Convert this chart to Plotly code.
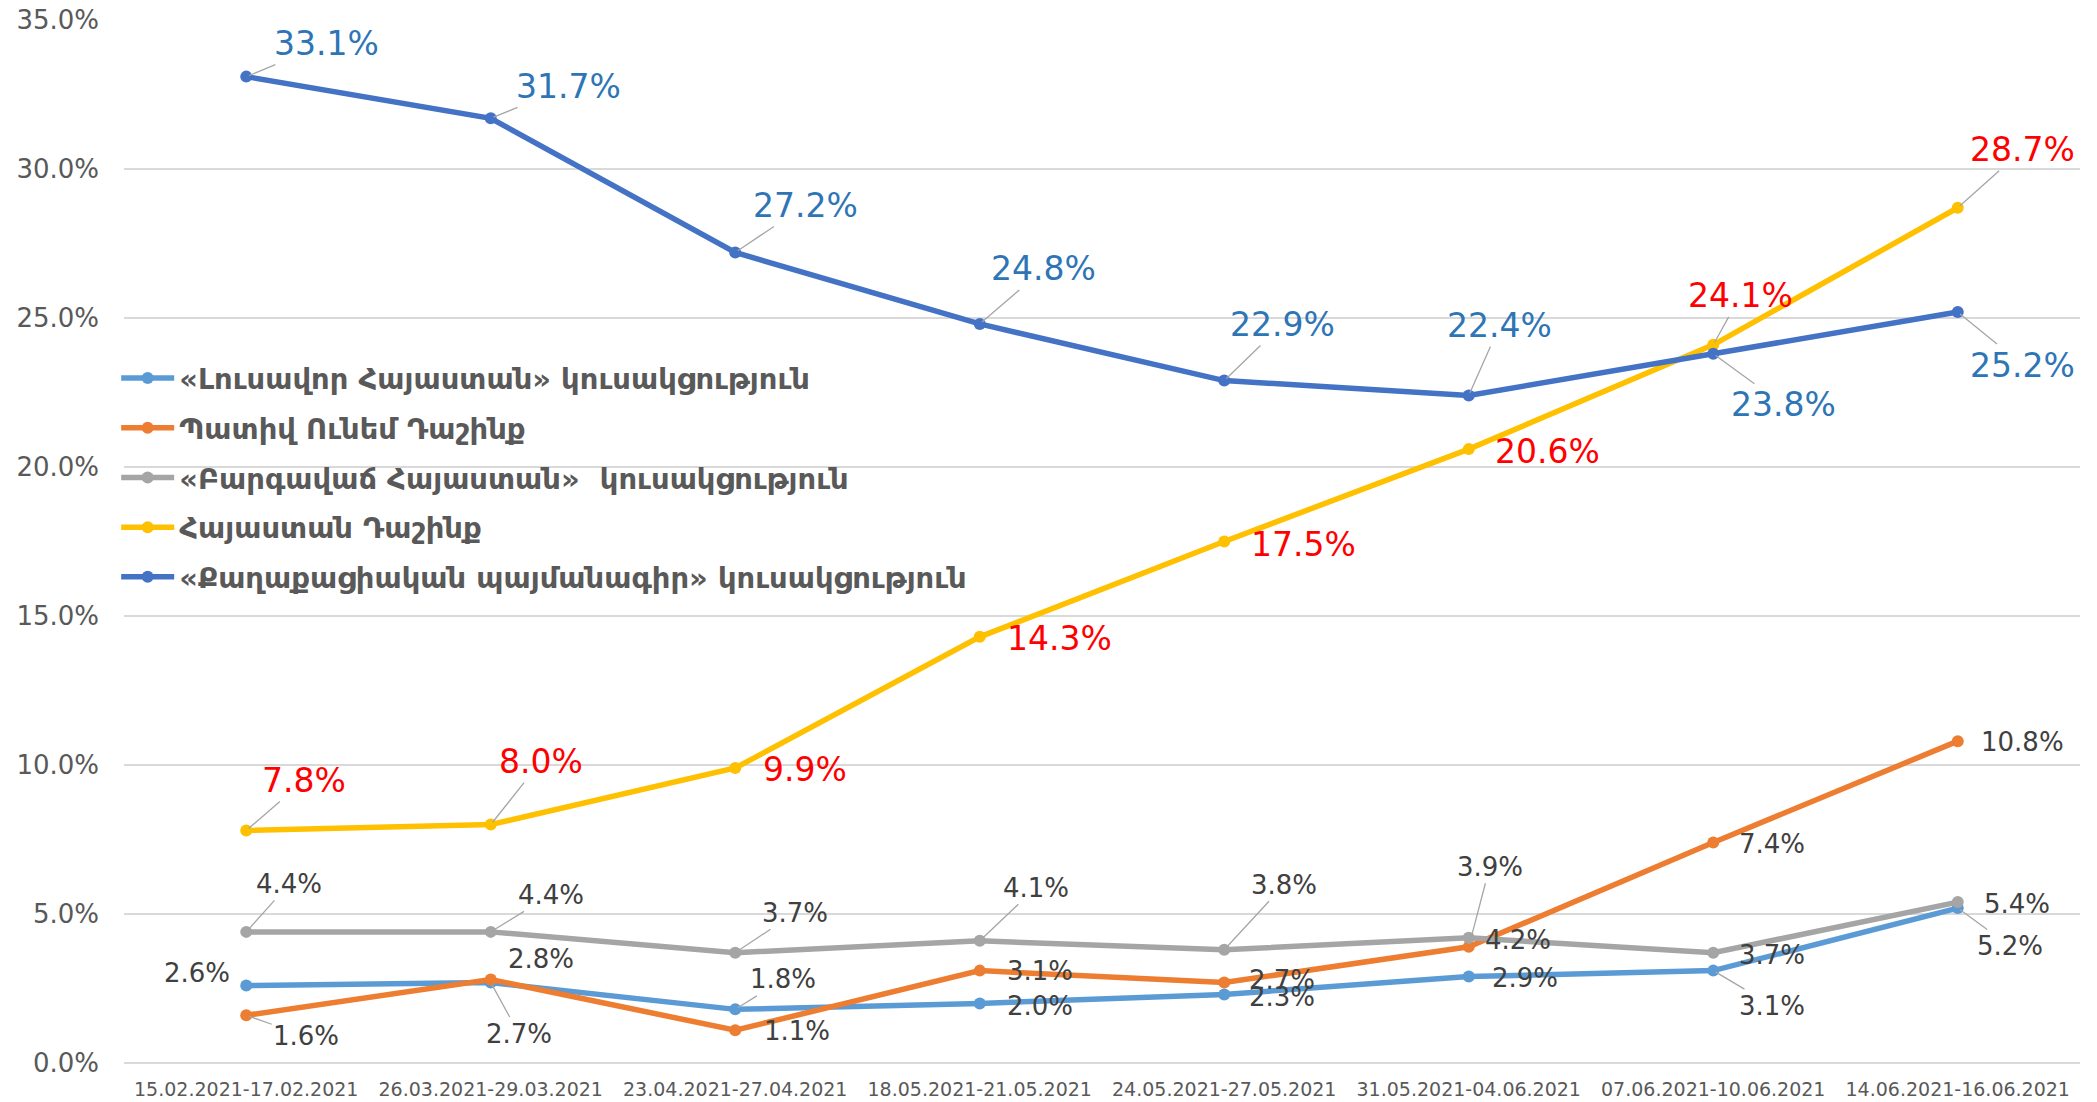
import plotly.graph_objects as go

categories = ["15.02.2021-17.02.2021", "26.03.2021-29.03.2021", "23.04.2021-27.04.2021",
              "18.05.2021-21.05.2021", "24.05.2021-27.05.2021", "31.05.2021-04.06.2021",
              "07.06.2021-10.06.2021", "14.06.2021-16.06.2021"]

names = ["«Լուսավոր Հայաստան» կուսակցություն",
         "Պատիվ Ունեմ Դաշինք",
         "«Բարգավաճ Հայաստան»  կուսակցություն",
         "Հայաստան Դաշինք",
         "«Քաղաքացիական պայմանագիր» կուսակցություն"]

lusavor = [2.6, 2.7, 1.8, 2.0, 2.3, 2.9, 3.1, 5.2]
pativ = [1.6, 2.8, 1.1, 3.1, 2.7, 3.9, 7.4, 10.8]
bargavach = [4.4, 4.4, 3.7, 4.1, 3.8, 4.2, 3.7, 5.4]
hayastan = [7.8, 8.0, 9.9, 14.3, 17.5, 20.6, 24.1, 28.7]
qaghaqaciakan = [33.1, 31.7, 27.2, 24.8, 22.9, 22.4, 23.8, 25.2]

series = [lusavor, pativ, bargavach, hayastan, qaghaqaciakan]
colors = ["#5B9BD5", "#ED7D31", "#A5A5A5", "#FFC000", "#4472C4"]

# label styling: (dx, dy, leader) pixel offsets per point
label_offsets = [
    [(-49, -13, 0), (28, 51, 1), (48, -30, 1), (60, 3, 0), (58, 3, 0), (56, 1, 0), (59, 35, 1), (52, 38, 1)],
    [(60, 21, 1), (50, -21, 0), (62, 1, 0), (60, 0, 0), (58, -3, 0), (21, -80, 1), (59, 2, 0), (65, 1, 0)],
    [(43, -48, 1), (60, -37, 1), (60, -40, 1), (56, -53, 1), (60, -65, 1), (49, 2, 0), (59, 2, 0), (59, 2, 0)],
    [(58, -50, 1), (50, -63, 1), (70, 2, 0), (80, 2, 0), (79, 3, 0), (79, 2, 0), (27, -49, 1), (65, -58, 1)],
    [(80, -33, 1), (78, -32, 1), (70, -47, 1), (64, -55, 1), (58, -56, 1), (31, -70, 1), (70, 51, 1), (65, 53, 1)],
]
label_colors = ["#404040", "#404040", "#404040", "#FF0000", "#2E75B6"]
label_sizes = [26, 26, 26, 33, 33]

FONT = "DejaVu Sans"

fig = go.Figure()
for i, (vals, name, col) in enumerate(zip(series, names, colors)):
    fig.add_trace(go.Scatter(
        x=categories, y=vals, name=name, mode="lines+markers",
        line=dict(color=col, width=5.5),
        marker=dict(color=col, size=12),
        legendgroup=f"g{i}",
    ))

annotations = []
for vals, offs, lc, ls in zip(series, label_offsets, label_colors, label_sizes):
    for cat, v, (dx, dy, lead) in zip(categories, vals, offs):
        txt = f"{v:.1f}%"
        if lead:
            annotations.append(dict(
                x=cat, y=v, xref="x", yref="y", text=txt, showarrow=True,
                ax=dx, ay=dy, arrowhead=0, arrowwidth=1.3, arrowcolor="#A6A6A6",
                standoff=3, font=dict(family=FONT, size=ls, color=lc)))
        else:
            annotations.append(dict(
                x=cat, y=v, xref="x", yref="y", text=txt, showarrow=False,
                xshift=dx, yshift=-dy, font=dict(family=FONT, size=ls, color=lc)))

fig.update_layout(
    width=2097, height=1102,
    margin=dict(l=124, r=17, t=20, b=39),
    paper_bgcolor="white", plot_bgcolor="white",
    font=dict(family=FONT, color="#595959"),
    annotations=annotations,
    showlegend=True,
    legend=dict(
        x=-0.004, y=0.681, xanchor="left", yanchor="top",
        font=dict(family=FONT, size=29, color="#595959", weight="bold"),
        bgcolor="rgba(0,0,0,0)", tracegroupgap=9, itemwidth=53,
    ),
    xaxis=dict(
        type="category", range=[-0.5, 7.5], showgrid=False, zeroline=False, showline=False,
        tickfont=dict(family=FONT, size=19, color="#595959"),
        ticks="", ticklabelstandoff=13, automargin=False,
    ),
    yaxis=dict(
        range=[0, 35], dtick=5, tickformat=".1f", ticksuffix="%",
        showgrid=True, gridcolor="#D9D9D9", gridwidth=1.5,
        zeroline=True, zerolinecolor="#D9D9D9", zerolinewidth=1.5, showline=False,
        tickfont=dict(family=FONT, size=26, color="#595959"),
        ticklabelstandoff=24, automargin=False,
    ),
)

fig.write_html("out.html")
